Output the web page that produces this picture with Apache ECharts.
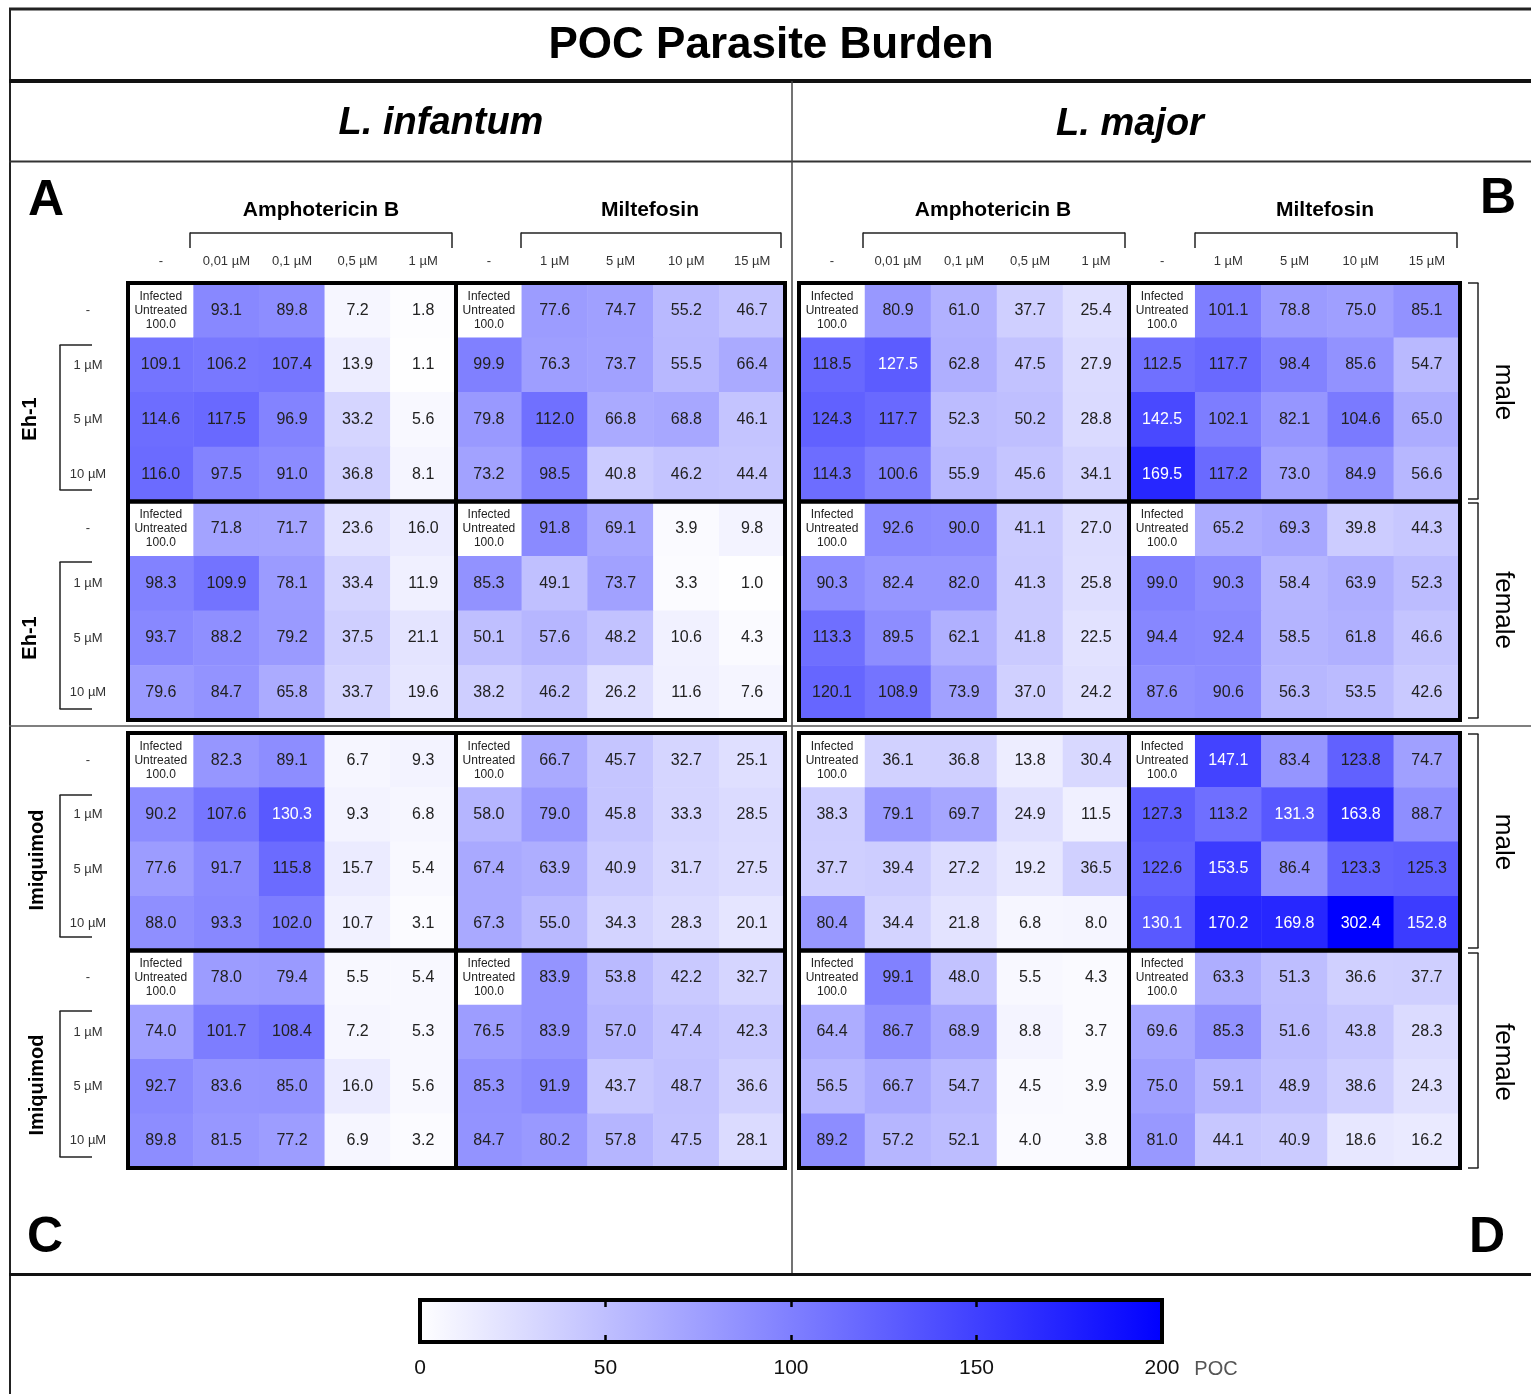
<!DOCTYPE html>
<html><head><meta charset="utf-8">
<script src="https://cdn.jsdelivr.net/npm/echarts@6/dist/echarts.min.js"></script>
<style>html,body{margin:0;padding:0;background:#fff}#c{width:1531px;height:1394px}</style>
</head><body><div id="c"></div>
<script>
// ---------- categories / tick labels ----------
const colsAmph = ['-', '0,01 µM', '0,1 µM', '0,5 µM', '1 µM'];
const colsMilt = ['-', '1 µM', '5 µM', '10 µM', '15 µM'];
const rowDoses = ['-', '1 µM', '5 µM', '10 µM'];
const scaleTicks = [0, 50, 100, 150, 200];
const controlLabel = 'Infected\nUntreated\n100.0';

// ---------- values (rows top→bottom; first cell = infected untreated control) ----------
// A: L. infantum + Eh-1
const infEhMaleAmph = [[100.0, 93.1, 89.8, 7.2, 1.8],[109.1,106.2,107.4,13.9,1.1],[114.6,117.5,96.9,33.2,5.6],[116.0,97.5,91.0,36.8,8.1]];
const infEhMaleMilt = [[100.0, 77.6, 74.7, 55.2, 46.7],[99.9,76.3,73.7,55.5,66.4],[79.8,112.0,66.8,68.8,46.1],[73.2,98.5,40.8,46.2,44.4]];
const infEhFemAmph  = [[100.0, 71.8, 71.7, 23.6, 16.0],[98.3,109.9,78.1,33.4,11.9],[93.7,88.2,79.2,37.5,21.1],[79.6,84.7,65.8,33.7,19.6]];
const infEhFemMilt  = [[100.0, 91.8, 69.1, 3.9, 9.8],[85.3,49.1,73.7,3.3,1.0],[50.1,57.6,48.2,10.6,4.3],[38.2,46.2,26.2,11.6,7.6]];
// B: L. major + Eh-1
const majEhMaleAmph = [[100.0, 80.9, 61.0, 37.7, 25.4],[118.5,127.5,62.8,47.5,27.9],[124.3,117.7,52.3,50.2,28.8],[114.3,100.6,55.9,45.6,34.1]];
const majEhMaleMilt = [[100.0, 101.1, 78.8, 75.0, 85.1],[112.5,117.7,98.4,85.6,54.7],[142.5,102.1,82.1,104.6,65.0],[169.5,117.2,73.0,84.9,56.6]];
const majEhFemAmph  = [[100.0, 92.6, 90.0, 41.1, 27.0],[90.3,82.4,82.0,41.3,25.8],[113.3,89.5,62.1,41.8,22.5],[120.1,108.9,73.9,37.0,24.2]];
const majEhFemMilt  = [[100.0, 65.2, 69.3, 39.8, 44.3],[99.0,90.3,58.4,63.9,52.3],[94.4,92.4,58.5,61.8,46.6],[87.6,90.6,56.3,53.5,42.6]];
// C: L. infantum + Imiquimod
const infImMaleAmph = [[100.0, 82.3, 89.1, 6.7, 9.3],[90.2,107.6,130.3,9.3,6.8],[77.6,91.7,115.8,15.7,5.4],[88.0,93.3,102.0,10.7,3.1]];
const infImMaleMilt = [[100.0, 66.7, 45.7, 32.7, 25.1],[58.0,79.0,45.8,33.3,28.5],[67.4,63.9,40.9,31.7,27.5],[67.3,55.0,34.3,28.3,20.1]];
const infImFemAmph  = [[100.0, 78.0, 79.4, 5.5, 5.4],[74.0,101.7,108.4,7.2,5.3],[92.7,83.6,85.0,16.0,5.6],[89.8,81.5,77.2,6.9,3.2]];
const infImFemMilt  = [[100.0, 83.9, 53.8, 42.2, 32.7],[76.5,83.9,57.0,47.4,42.3],[85.3,91.9,43.7,48.7,36.6],[84.7,80.2,57.8,47.5,28.1]];
// D: L. major + Imiquimod
const majImMaleAmph = [[100.0, 36.1, 36.8, 13.8, 30.4],[38.3,79.1,69.7,24.9,11.5],[37.7,39.4,27.2,19.2,36.5],[80.4,34.4,21.8,6.8,8.0]];
const majImMaleMilt = [[100.0, 147.1, 83.4, 123.8, 74.7],[127.3,113.2,131.3,163.8,88.7],[122.6,153.5,86.4,123.3,125.3],[130.1,170.2,169.8,302.4,152.8]];
const majImFemAmph  = [[100.0, 99.1, 48.0, 5.5, 4.3],[64.4,86.7,68.9,8.8,3.7],[56.5,66.7,54.7,4.5,3.9],[89.2,57.2,52.1,4.0,3.8]];
const majImFemMilt  = [[100.0, 63.3, 51.3, 36.6, 37.7],[69.6,85.3,51.6,43.8,28.3],[75.0,59.1,48.9,38.6,24.3],[81.0,44.1,40.9,18.6,16.2]];

// ---------- layout ----------
const FONT = 'Liberation Sans, Arial, sans-serif';
const panels = [
  {xs:[128,456,785],  ys:[283,501.5,720], blocks:[[infEhMaleAmph,infEhMaleMilt],[infEhFemAmph,infEhFemMilt]], cols:true, rows:true},
  {xs:[799,1129,1460],ys:[283,501.5,720], blocks:[[majEhMaleAmph,majEhMaleMilt],[majEhFemAmph,majEhFemMilt]], cols:true, rows:false},
  {xs:[128,456,785],  ys:[733,950.5,1168], blocks:[[infImMaleAmph,infImMaleMilt],[infImFemAmph,infImFemMilt]], cols:false, rows:true},
  {xs:[799,1129,1460],ys:[733,950.5,1168], blocks:[[majImMaleAmph,majImMaleMilt],[majImFemAmph,majImFemMilt]], cols:false, rows:false}
];

const grids = [], xAxes = [], yAxes = [], series = [];
let gi = 0;
panels.forEach(p => {
  for (let r = 0; r < 2; r++) for (let c = 0; c < 2; c++) {
    const vals = p.blocks[r][c];
    grids.push({left:p.xs[c], top:p.ys[r], width:p.xs[c+1]-p.xs[c], height:p.ys[r+1]-p.ys[r],
      show:true, backgroundColor:'transparent', borderColor:'#000', borderWidth:4, z:10});
    xAxes.push({type:'category', gridIndex:gi, data: c===0?colsAmph:colsMilt, position:'top',
      axisLine:{show:false}, axisTick:{show:false}, splitLine:{show:false},
      axisLabel:{show: p.cols && r===0, margin:15, fontSize:13, color:'#333', fontFamily:FONT}});
    yAxes.push({type:'category', gridIndex:gi, data: rowDoses, inverse:true,
      axisLine:{show:false}, axisTick:{show:false}, splitLine:{show:false},
      axisLabel:{show: p.rows && c===0, margin:40, align:'center', fontSize:13, color:'#333', fontFamily:FONT}});
    const data = [];
    vals.forEach((row, yi) => row.forEach((v, xi) => {
      const item = {value:[xi, yi, v]};
      if (xi===0 && yi===0) {
        item.itemStyle = {color:'#ffffff'};
        item.label = {formatter: controlLabel, fontSize:12, lineHeight:14, color:'#222'};
      } else if (v >= 127.4) {
        item.label = {color:'#ffffff'};
      }
      data.push(item);
    }));
    series.push({type:'heatmap', xAxisIndex:gi, yAxisIndex:gi, data,
      label:{show:true, fontSize:16, color:'#222', fontFamily:FONT,
        formatter: q => q.value[2].toFixed(1)},
      itemStyle:{borderWidth:0}, emphasis:{disabled:true}});
    gi++;
  }
});

// colorbar axis grid
const cbLeft = 420, cbTop = 1300, cbW = 742, cbH = 42;
grids.push({left:cbLeft, top:cbTop, width:cbW, height:cbH, show:false});
xAxes.push({type:'value', gridIndex:gi, min:scaleTicks[0], max:scaleTicks[scaleTicks.length-1], interval:50, position:'bottom', z:5,
  axisLine:{show:false}, splitLine:{show:false},
  axisTick:{show:true, inside:true, length:7, lineStyle:{color:'#000', width:2.5}},
  axisLabel:{margin:16, fontSize:21, color:'#111', fontFamily:FONT}});
xAxes.push({type:'value', gridIndex:gi, min:scaleTicks[0], max:scaleTicks[scaleTicks.length-1], interval:50, position:'top', z:5,
  axisLine:{show:false}, splitLine:{show:false},
  axisTick:{show:true, inside:true, length:7, lineStyle:{color:'#000', width:2.5}},
  axisLabel:{show:false}});
yAxes.push({type:'value', gridIndex:gi, show:false});

// ---------- decorations ----------
const G = [];
const line = (x1,y1,x2,y2,w,c) => G.push({type:'line', shape:{x1,y1,x2,y2}, style:{stroke:c||'#000', lineWidth:w||1.5}, silent:true});
const text = (x,y,t,font,opt) => G.push(Object.assign({type:'text', x, y,
  style:{text:t, font, fill:(opt&&opt.fill)||'#000', align:'center', verticalAlign:'middle'}, silent:true}, (opt&&opt.el)||{}));

// frame
line(9,9,1531,9,3,'#222');
line(10,8,10,1394,2,'#222');
line(9,81,1531,81,4,'#111');
line(9,161.5,1531,161.5,2,'#333');
line(792,81,792,1275,1.5,'#444');
line(9,726,1531,726,1.5,'#555');
line(9,1274.5,1531,1274.5,3,'#111');

// titles
text(771,46,'POC Parasite Burden',`bold 44px ${FONT}`);
text(441,124,'L. infantum',`italic bold 38px ${FONT}`);
text(1130,125,'L. major',`italic bold 38px ${FONT}`);
// panel letters
text(46,201,'A',`bold 50px ${FONT}`);
text(1498,199,'B',`bold 50px ${FONT}`);
text(45,1238,'C',`bold 50px ${FONT}`);
text(1487,1238,'D',`bold 50px ${FONT}`);

// drug headers + brackets
[[321,'Amphotericin B',190,452],[650,'Miltefosin',521,781],[993,'Amphotericin B',863,1125],[1325,'Miltefosin',1195,1457]].forEach(([cx,t,x1,x2]) => {
  text(cx,210,t,`bold 21px ${FONT}`);
  line(x1,233,x2,233,1.5,'#222'); line(x1,232.5,x1,248,1.5,'#222'); line(x2,232.5,x2,248,1.5,'#222');
});

// row-group labels (left)
[[30,419,'Eh-1',345,490],[30,638,'Eh-1',562,709],[37,860,'Imiquimod',795,937],[37,1085,'Imiquimod',1011,1157]].forEach(([cx,cy,t,y1,y2]) => {
  text(cx, cy, t, `bold 20px ${FONT}`, {el:{rotation:Math.PI/2}});
  line(60,y1,60,y2,1.5,'#222'); line(59.5,y1,92,y1,1.5,'#222'); line(59.5,y2,92,y2,1.5,'#222');
});

// sex labels (right)
[[392,'male',283,499],[610,'female',503,718],[842,'male',734,948],[1062,'female',953,1168]].forEach(([cy,t,y1,y2]) => {
  text(1503, cy, t, `26px ${FONT}`, {el:{rotation:-Math.PI/2}});
  line(1478,y1,1478,y2,1.5,'#222'); line(1468,y1,1478.5,y1,1.5,'#222'); line(1468,y2,1478.5,y2,1.5,'#222');
});

// colorbar
G.push({type:'rect', shape:{x:cbLeft, y:cbTop, width:cbW, height:cbH}, z:-1, silent:true,
  style:{fill:new echarts.graphic.LinearGradient(0,0,1,0,[{offset:0,color:'#ffffff'},{offset:1,color:'#0000ff'}]), stroke:'#000', lineWidth:4}});
text(1216,1369,'POC',`20px ${FONT}`,{fill:'#555'});

const chart = echarts.init(document.getElementById('c'));
chart.setOption({
  backgroundColor:'#ffffff',
  animation:false,
  grid:grids, xAxis:xAxes, yAxis:yAxes,
  visualMap:{type:'continuous', show:false, min:0, max:200, seriesIndex:series.map((s,i)=>i), dimension:2,
    inRange:{color:['#ffffff','#0000ff']}, outOfRange:{color:['#0000ff']}},
  series,
  graphic:{elements:G}
});
</script></body></html>
